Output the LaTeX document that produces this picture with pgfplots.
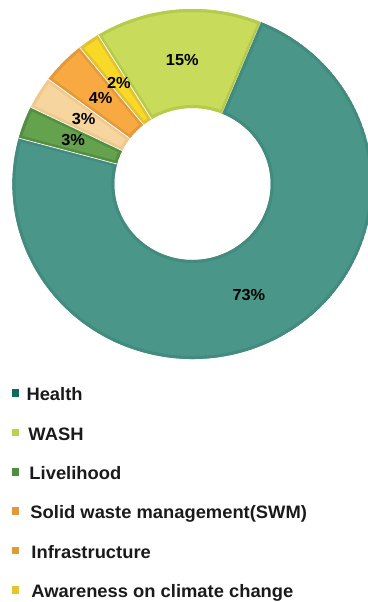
\documentclass[border=0pt]{standalone}
\usepackage{pgfplots}
\usepackage{pgfplotstable}
\pgfplotsset{compat=1.18}
\usepackage{fontspec}
\setmainfont{Liberation Sans}[FakeStretch=1.02]

\definecolor{heaF}{HTML}{4A978A}\definecolor{heaB}{HTML}{438B7E}
\definecolor{washF}{HTML}{C8DB5A}\definecolor{washB}{HTML}{B6CB4C}
\definecolor{awaF}{HTML}{F9D928}\definecolor{awaB}{HTML}{E3C22F}
\definecolor{infF}{HTML}{F8A942}\definecolor{infB}{HTML}{E39A3B}
\definecolor{swmF}{HTML}{F7D59E}\definecolor{swmB}{HTML}{EFC98E}
\definecolor{livF}{HTML}{65A24E}\definecolor{livB}{HTML}{548F40}
\definecolor{legHea}{HTML}{0E6B5B}
\definecolor{legWash}{HTML}{BCD04A}
\definecolor{legLiv}{HTML}{4E8F42}
\definecolor{legSwm}{HTML}{E09A3A}
\definecolor{legInf}{HTML}{E09A3A}
\definecolor{legAwa}{HTML}{E5C52F}
\definecolor{txt}{HTML}{1A1A1A}

% segments counter-clockwise, starting at the Health/WASH boundary
\pgfplotstableread{
name value fillc borderc
WASH 15 washF washB
Awareness 2 awaF awaB
Infrastructure 4 infF infB
SWM 3 swmF swmB
Livelihood 3 livF livB
Health 73 heaF heaB
}\donut

\def\startangle{67.6}
\def\Rout{175pt}
\def\Rin{76pt}

\begin{document}
\begin{tikzpicture}
\begin{axis}[
  x=1pt, y=1pt, xmin=0, xmax=367, ymin=0, ymax=602,
  hide axis, clip=false,
  legend cell align=left,
  legend image code/.code={\path (0pt,0pt); \fill[#1] (0pt,-0.5pt) rectangle (7.5pt,7pt);},
  legend style={at={(axis cs:12,214)}, anchor=north west, draw=none, fill=none,
    inner sep=0pt, outer sep=0pt,
    font=\bfseries\fontsize{18}{20}\selectfont, text=txt,
    row sep=22.3pt,
    nodes={inner sep=0pt, text height=13pt, text depth=4pt},
    /tikz/every odd column/.append style={column sep=7pt}},
]
\pgfplotsextra{
  \coordinate (bbll) at (axis cs:0,0);
  \coordinate (bbur) at (axis cs:367,602);
  \begin{scope}[shift={(axis cs:192.5,418)}, xscale=1.029]
    \pgfplotstablegetrowsof{\donut}
    \pgfmathtruncatemacro\nrows{\pgfplotsretval-1}
    \xdef\cum{\startangle}
    \foreach \i in {0,...,\nrows}{
      \pgfplotstablegetelem{\i}{value}\of\donut \let\val\pgfplotsretval
      \pgfplotstablegetelem{\i}{fillc}\of\donut \let\fc\pgfplotsretval
      \pgfplotstablegetelem{\i}{borderc}\of\donut \let\bc\pgfplotsretval
      \pgfmathsetmacro\a{\cum}
      \pgfmathsetmacro\b{\cum+3.6*\val}
      \begin{scope}
        \clip (\a:\Rout) arc[start angle=\a,end angle=\b,radius=\Rout] -- (\b:\Rin) arc[start angle=\b,end angle=\a,radius=\Rin] -- cycle;
        \fill[fill=\fc] (\a:\Rout) arc[start angle=\a,end angle=\b,radius=\Rout] -- (\b:\Rin) arc[start angle=\b,end angle=\a,radius=\Rin] -- cycle;
        \draw[draw=\bc, line width=6pt] (\a:\Rout) arc[start angle=\a,end angle=\b,radius=\Rout] -- (\b:\Rin) arc[start angle=\b,end angle=\a,radius=\Rin] -- cycle;
      \end{scope}
      \draw[white, line width=0.7pt] (\a:\Rin) -- (\a:\Rout);
      \xdef\cum{\b}
    }
    \xdef\cum{\startangle}
    \foreach \i in {0,...,\nrows}{
      \pgfplotstablegetelem{\i}{value}\of\donut \let\val\pgfplotsretval
      \pgfmathsetmacro\a{\cum}
      \pgfmathsetmacro\b{\cum+3.6*\val}
      \pgfmathsetmacro\m{(\a+\b)/2}
      \node[font=\bfseries\fontsize{16}{18}\selectfont, text=black] at (\m:124pt) {\val\%};
      \xdef\cum{\b}
    }
  \end{scope}
}
\addlegendimage{draw=none, fill=legHea}\addlegendentry{Health}
\addlegendimage{draw=none, fill=legWash}\addlegendentry{\hspace{2pt}WASH}
\addlegendimage{draw=none, fill=legLiv}\addlegendentry{\hspace{3pt}Livelihood}
\addlegendimage{draw=none, fill=legSwm}\addlegendentry{\hspace{4pt}Solid waste management(SWM)}
\addlegendimage{draw=none, fill=legInf}\addlegendentry{\hspace{5pt}Infrastructure}
\addlegendimage{draw=none, fill=legAwa}\addlegendentry{\hspace{5pt}Awareness on climate change}
\end{axis}
\pgfresetboundingbox
\useasboundingbox (bbll) rectangle (bbur);
\end{tikzpicture}
\end{document}
